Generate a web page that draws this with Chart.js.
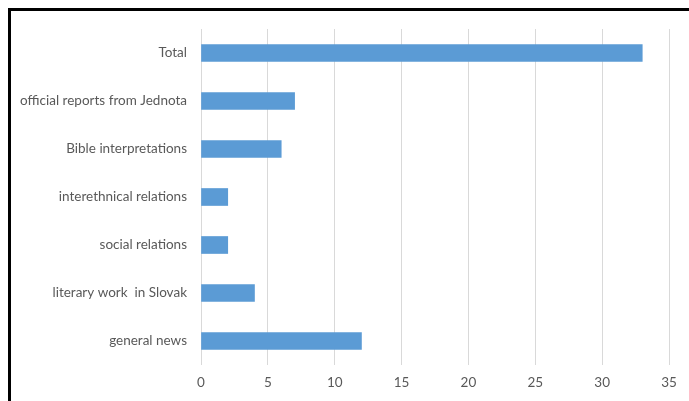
<!DOCTYPE html>
<html>
<head>
<meta charset="utf-8">
<script src="https://cdn.jsdelivr.net/npm/chart.js@4"></script>
<style>
  html,body{margin:0;padding:0;background:#fff;}
  #wrap{position:relative;width:689px;height:401px;overflow:hidden;}
  #frame{position:absolute;left:8px;top:8px;right:-10px;bottom:-10px;border-left:3px solid #000;border-top:3px solid #000;}
  canvas{position:absolute;left:0;top:0;}
</style>
</head>
<body>
<div id="wrap">
  <canvas id="topics" width="689" height="401"></canvas>
  <div id="frame"></div>
</div>
<script>
// article topics, top to bottom
const categories = ["Total","official reports from Jednota","Bible interpretations","interethnical relations","social relations","literary work  in Slovak","general news"];
const counts = [33, 7, 6, 2, 2, 4, 12];
const xTicks = [0, 5, 10, 15, 20, 25, 30, 35];

const FONT = "Lato, 'Open Sans', sans-serif";
const TEXT = "#595959";

new Chart(document.getElementById("topics"), {
  type: "bar",
  data: {
    labels: categories,
    datasets: [{ data: counts, backgroundColor: "#5B9BD5", borderWidth: 0, barThickness: 17 }]
  },
  options: {
    indexAxis: "y",
    responsive: false,
    animation: false,
    layout: { padding: { left: 0, right: 20, top: 29, bottom: 0 } },
    plugins: { legend: { display: false }, tooltip: { enabled: false } },
    scales: {
      x: {
        min: xTicks[0], max: xTicks[xTicks.length - 1],
        afterBuildTicks: s => { s.ticks = xTicks.map(v => ({ value: v })); },
        afterFit: s => { s.height = 36; },
        grid: { color: "#D9D9D9", lineWidth: 1, drawTicks: false },
        border: { display: false },
        ticks: { color: TEXT, font: { family: FONT, size: 13.5 }, padding: 10 }
      },
      y: {
        afterFit: s => { s.width = 201; },
        grid: { display: false, drawTicks: false },
        border: { display: false },
        ticks: { color: TEXT, font: { family: FONT, size: 13.5 }, padding: 14 }
      }
    }
  }
});
</script>
</body>
</html>
